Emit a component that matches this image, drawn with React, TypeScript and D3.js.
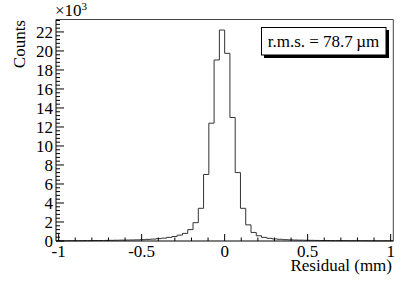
import React from 'react';
import * as d3 from 'd3';

// bin contents in thousands, 64 bins from -1.016 to 1.016 mm
const binCounts = [
  0.02, 0.02, 0.03, 0.03, 0.03, 0.04, 0.04, 0.05, 0.05, 0.06,
  0.07, 0.08, 0.09, 0.1, 0.11, 0.12, 0.14, 0.17, 0.2, 0.25,
  0.3, 0.38, 0.48, 0.62, 0.8, 1.2, 1.93, 3.44, 7.0, 12.4,
  19.05, 22.2, 19.75, 13.0, 7.2, 3.44, 1.7, 0.9, 0.55, 0.38,
  0.28, 0.22, 0.18, 0.14, 0.12, 0.1, 0.09, 0.08, 0.07, 0.06,
  0.05, 0.05, 0.04, 0.04, 0.04, 0.03, 0.03, 0.03, 0.03, 0.02,
  0.02, 0.02, 0.02, 0.02,
];
const xRange = [-1.016, 1.016];
const xMajor = [-1, -0.5, 0, 0.5, 1];
const xMajorLabels = ['-1', '-0.5', '0', '0.5', '1'];
const yMajor = [0, 2, 4, 6, 8, 10, 12, 14, 16, 18, 20, 22];
const yMax = 23.31;
const rmsText = 'r.m.s. = 78.7\u2009\u00b5m';

const width = 415;
const height = 281;
const left = 56;
const right = 393.3;
const top = 19.5;
const bottom = 241;
const font = "'Liberation Serif', 'DejaVu Serif', serif";

const x = d3.scaleLinear().domain(xRange).range([left, right]);
const y = d3.scaleLinear().domain([0, yMax]).range([bottom, top]);

const binWidth = (xRange[1] - xRange[0]) / binCounts.length;
const stepPoints: [number, number][] = [];
binCounts.forEach((v, i) => {
  const x0 = xRange[0] + i * binWidth;
  stepPoints.push([x0, v], [x0 + binWidth, v]);
});
const histPath = d3.line<[number, number]>()
  .x(d => x(d[0]))
  .y(d => y(d[1]))(stepPoints);

const xMinor = d3.range(-10, 11).map(d => d / 10).filter(d => !xMajor.includes(d));
const yMinor = d3.range(0, 59).map(d => d * 0.4).filter(d => d <= yMax && Math.abs(d / 2 - Math.round(d / 2)) > 1e-6);

export default function App() {
  return (
    <svg width={width} height={height} style={{ position: 'absolute', left: 0, top: 0, fontFamily: font }}>
      <rect width={width} height={height} fill="#fff" />
      {/* frame */}
      <line x1={left} x2={right} y1={top} y2={top} stroke="#444" />
      <line x1={right} x2={right} y1={top} y2={bottom} stroke="#444" />
      {/* histogram */}
      <path d={histPath ?? ''} fill="none" stroke="#333" strokeWidth={1} />
      {/* x axis */}
      <line x1={left} x2={right} y1={bottom} y2={bottom} stroke="#000" />
      {xMajor.map(d => (
        <line key={'xm' + d} x1={x(d)} x2={x(d)} y1={bottom} y2={bottom - 7} stroke="#000" />
      ))}
      {xMinor.map(d => (
        <line key={'xn' + d} x1={x(d)} x2={x(d)} y1={bottom} y2={bottom - 3.5} stroke="#000" />
      ))}
      {xMajor.map((d, i) => (
        <text key={'xl' + d} x={x(d)} y={256.5} textAnchor="middle" fontSize={17}>{xMajorLabels[i]}</text>
      ))}
      <text x={392} y={271} textAnchor="end" fontSize={17}>Residual (mm)</text>
      {/* y axis */}
      <line x1={left} x2={left} y1={top} y2={bottom} stroke="#000" />
      {yMajor.map(d => (
        <line key={'ym' + d} x1={left} x2={left + 8} y1={y(d)} y2={y(d)} stroke="#000" />
      ))}
      {yMinor.map(d => (
        <line key={'yn' + d} x1={left} x2={left + 4} y1={y(d)} y2={y(d)} stroke="#000" />
      ))}
      {yMajor.map(d => (
        <text key={'yl' + d} x={53} y={y(d) + 6} textAnchor="end" fontSize={17}>{d}</text>
      ))}
      <text x={55} y={16} fontSize={17}>
        {'\u00d710'}
        <tspan dy={-6} fontSize={11}>3</tspan>
      </text>
      <text transform="translate(25,20) rotate(-90)" textAnchor="end" fontSize={17}>Counts</text>
      {/* stats box */}
      <rect x={264} y={30} width={125} height={28} fill="#000" />
      <rect x={261.5} y={27.5} width={124.5} height={27.5} fill="#fff" stroke="#000" />
      <text x={323.5} y={47} textAnchor="middle" fontSize={17}>{rmsText}</text>
    </svg>
  );
}
